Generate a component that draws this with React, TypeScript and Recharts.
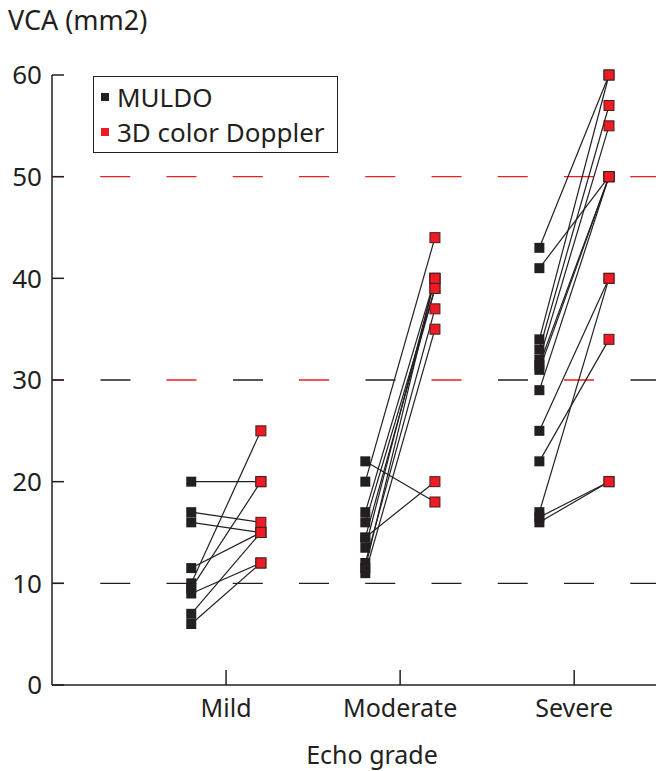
import {
  ComposedChart,
  Line,
  Scatter,
  XAxis,
  YAxis,
  ReferenceLine,
  Legend,
} from "recharts";

// categories on the x axis
const categories = ["Mild", "Moderate", "Severe"];
const yTicks = [0, 10, 20, 30, 40, 50, 60];

// paired measurements (MULDO -> 3D color Doppler), one entry per patient
const mildMuldo = [20, 17, 16, 11.5, 10, 9.5, 9, 7, 6];
const mildDoppler = [20, 16, 15, 15, 25, 20, 12, 15, 12];

const moderateMuldo = [22, 20, 17, 16, 14.5, 14.5, 13.5, 12, 11.5, 11];
const moderateDoppler = [18, 44, 40, 39, 20, 39, 40, 37, 40, 35];

const severeMuldo = [43, 41, 34, 33, 32, 31.5, 31, 29, 25, 22, 17, 16.5, 16];
const severeDoppler = [60, 50, 60, 57, 55, 50, 50, 50, 40, 34, 40, 20, 20];

const INK = "#231f20";
const RED = "#ed1c24";
const FONT = "'Noto Sans', sans-serif";
const SHIFT = 0.2;

const groups = [
  { muldo: mildMuldo, doppler: mildDoppler },
  { muldo: moderateMuldo, doppler: moderateDoppler },
  { muldo: severeMuldo, doppler: severeDoppler },
];

const pairs = groups.flatMap((g, gi) =>
  g.muldo.map((m, k) => [
    { x: gi + 1 - SHIFT, y: m },
    { x: gi + 1 + SHIFT, y: g.doppler[k] },
  ])
);
const muldoPoints = groups.flatMap((g, gi) =>
  g.muldo.map((m) => ({ x: gi + 1 - SHIFT, y: m }))
);
const dopplerPoints = groups.flatMap((g, gi) =>
  g.doppler.map((d) => ({ x: gi + 1 + SHIFT, y: d }))
);

const BlackSquare = (p: any) => (
  <rect x={p.cx - 5} y={p.cy - 5} width={10} height={10} fill={INK} />
);

const RedSquare = (p: any) => (
  <rect
    x={p.cx - 5}
    y={p.cy - 5}
    width={10}
    height={10}
    fill={RED}
    stroke="#4a1c1c"
    strokeWidth={1}
  />
);

const YTick = ({ x, y, payload }: any) => (
  <g>
    <line x1={x} x2={x + 12} y1={y} y2={y} stroke={INK} strokeWidth={1.5} />
    <text
      x={x - 10}
      y={y}
      dy="0.36em"
      textAnchor="end"
      fontSize={26}
      fill={INK}
      fontFamily={FONT}
    >
      {payload.value}
    </text>
  </g>
);

const XTick = ({ x, y, payload }: any) => (
  <g>
    <line x1={x} x2={x} y1={y} y2={y - 15} stroke={INK} strokeWidth={1.5} />
    <text
      x={x}
      y={y + 32}
      textAnchor="middle"
      fontSize={25}
      fill={INK}
      fontFamily={FONT}
    >
      {categories[payload.value - 1]}
    </text>
  </g>
);

const LegendBox = () => (
  <div
    style={{
      boxSizing: "border-box",
      width: 245,
      height: 77,
      border: `1.5px solid ${INK}`,
      fontFamily: FONT,
      fontSize: 26,
      color: INK,
      paddingLeft: 7,
      paddingTop: 2,
    }}
  >
    {[
      { name: "MULDO", color: INK },
      { name: "3D color Doppler", color: RED },
    ].map((item) => (
      <div
        key={item.name}
        style={{ display: "flex", alignItems: "center", height: 35 }}
      >
        <span
          style={{
            width: 8,
            height: 8,
            background: item.color,
            marginRight: 8,
            display: "inline-block",
          }}
        />
        <span>{item.name}</span>
      </div>
    ))}
  </div>
);

export default function App() {
  return (
    <div
      style={{
        position: "absolute",
        left: 0,
        top: 0,
        width: 656,
        height: 771,
        background: "#fff",
      }}
    >
      <ComposedChart
        width={656}
        height={771}
        margin={{ top: 75, right: 0, bottom: 0, left: 0 }}
      >
        <XAxis
          type="number"
          dataKey="x"
          domain={[0, 3.47]}
          ticks={[1, 2, 3]}
          allowDataOverflow
          height={86}
          tickSize={0}
          tickMargin={0}
          tickLine={false}
          tick={<XTick />}
          axisLine={{ stroke: INK, strokeWidth: 1.5 }}
          label={{
            content: (props: any) => (
              <text
                x={props.viewBox.x + props.viewBox.width / 2 + 18}
                y={764}
                textAnchor="middle"
                fontSize={25}
                fill={INK}
                fontFamily={FONT}
              >
                Echo grade
              </text>
            ),
          }}
        />
        <YAxis
          type="number"
          dataKey="y"
          domain={[0, 60]}
          ticks={yTicks}
          width={52}
          tickSize={0}
          tickMargin={0}
          tickLine={false}
          tick={<YTick />}
          axisLine={{ stroke: INK, strokeWidth: 1.5 }}
          label={{
            content: () => (
              <text x={8} y={30} fontSize={27} fill={INK} fontFamily={FONT}>
                VCA (mm2)
              </text>
            ),
          }}
        />
        <ReferenceLine
          y={10}
          stroke={INK}
          strokeWidth={1.3}
          strokeDasharray="30 36.25"
          strokeDashoffset={18}
        />
        <ReferenceLine
          y={30}
          stroke={INK}
          strokeWidth={1.3}
          strokeDasharray="30 102.5"
          strokeDashoffset={84}
        />
        <ReferenceLine
          y={30}
          stroke={RED}
          strokeWidth={1.3}
          strokeDasharray="30 102.5"
          strokeDashoffset={18}
        />
        <ReferenceLine
          y={50}
          stroke={RED}
          strokeWidth={1.3}
          strokeDasharray="30 36.25"
          strokeDashoffset={18}
        />
        {pairs.map((seg, i) => (
          <Line
            key={i}
            data={seg}
            dataKey="y"
            stroke={INK}
            strokeWidth={1.2}
            dot={false}
            activeDot={false}
            legendType="none"
            isAnimationActive={false}
          />
        ))}
        <Scatter
          name="MULDO"
          data={muldoPoints}
          dataKey="y"
          shape={BlackSquare}
          isAnimationActive={false}
        />
        <Scatter
          name="3D color Doppler"
          data={dopplerPoints}
          dataKey="y"
          shape={RedSquare}
          isAnimationActive={false}
        />
        <Legend
          layout="horizontal"
          verticalAlign="middle"
          align="center"
          content={<LegendBox />}
          wrapperStyle={{ left: 93, top: 76, width: 245, height: 77 }}
        />
      </ComposedChart>
    </div>
  );
}
